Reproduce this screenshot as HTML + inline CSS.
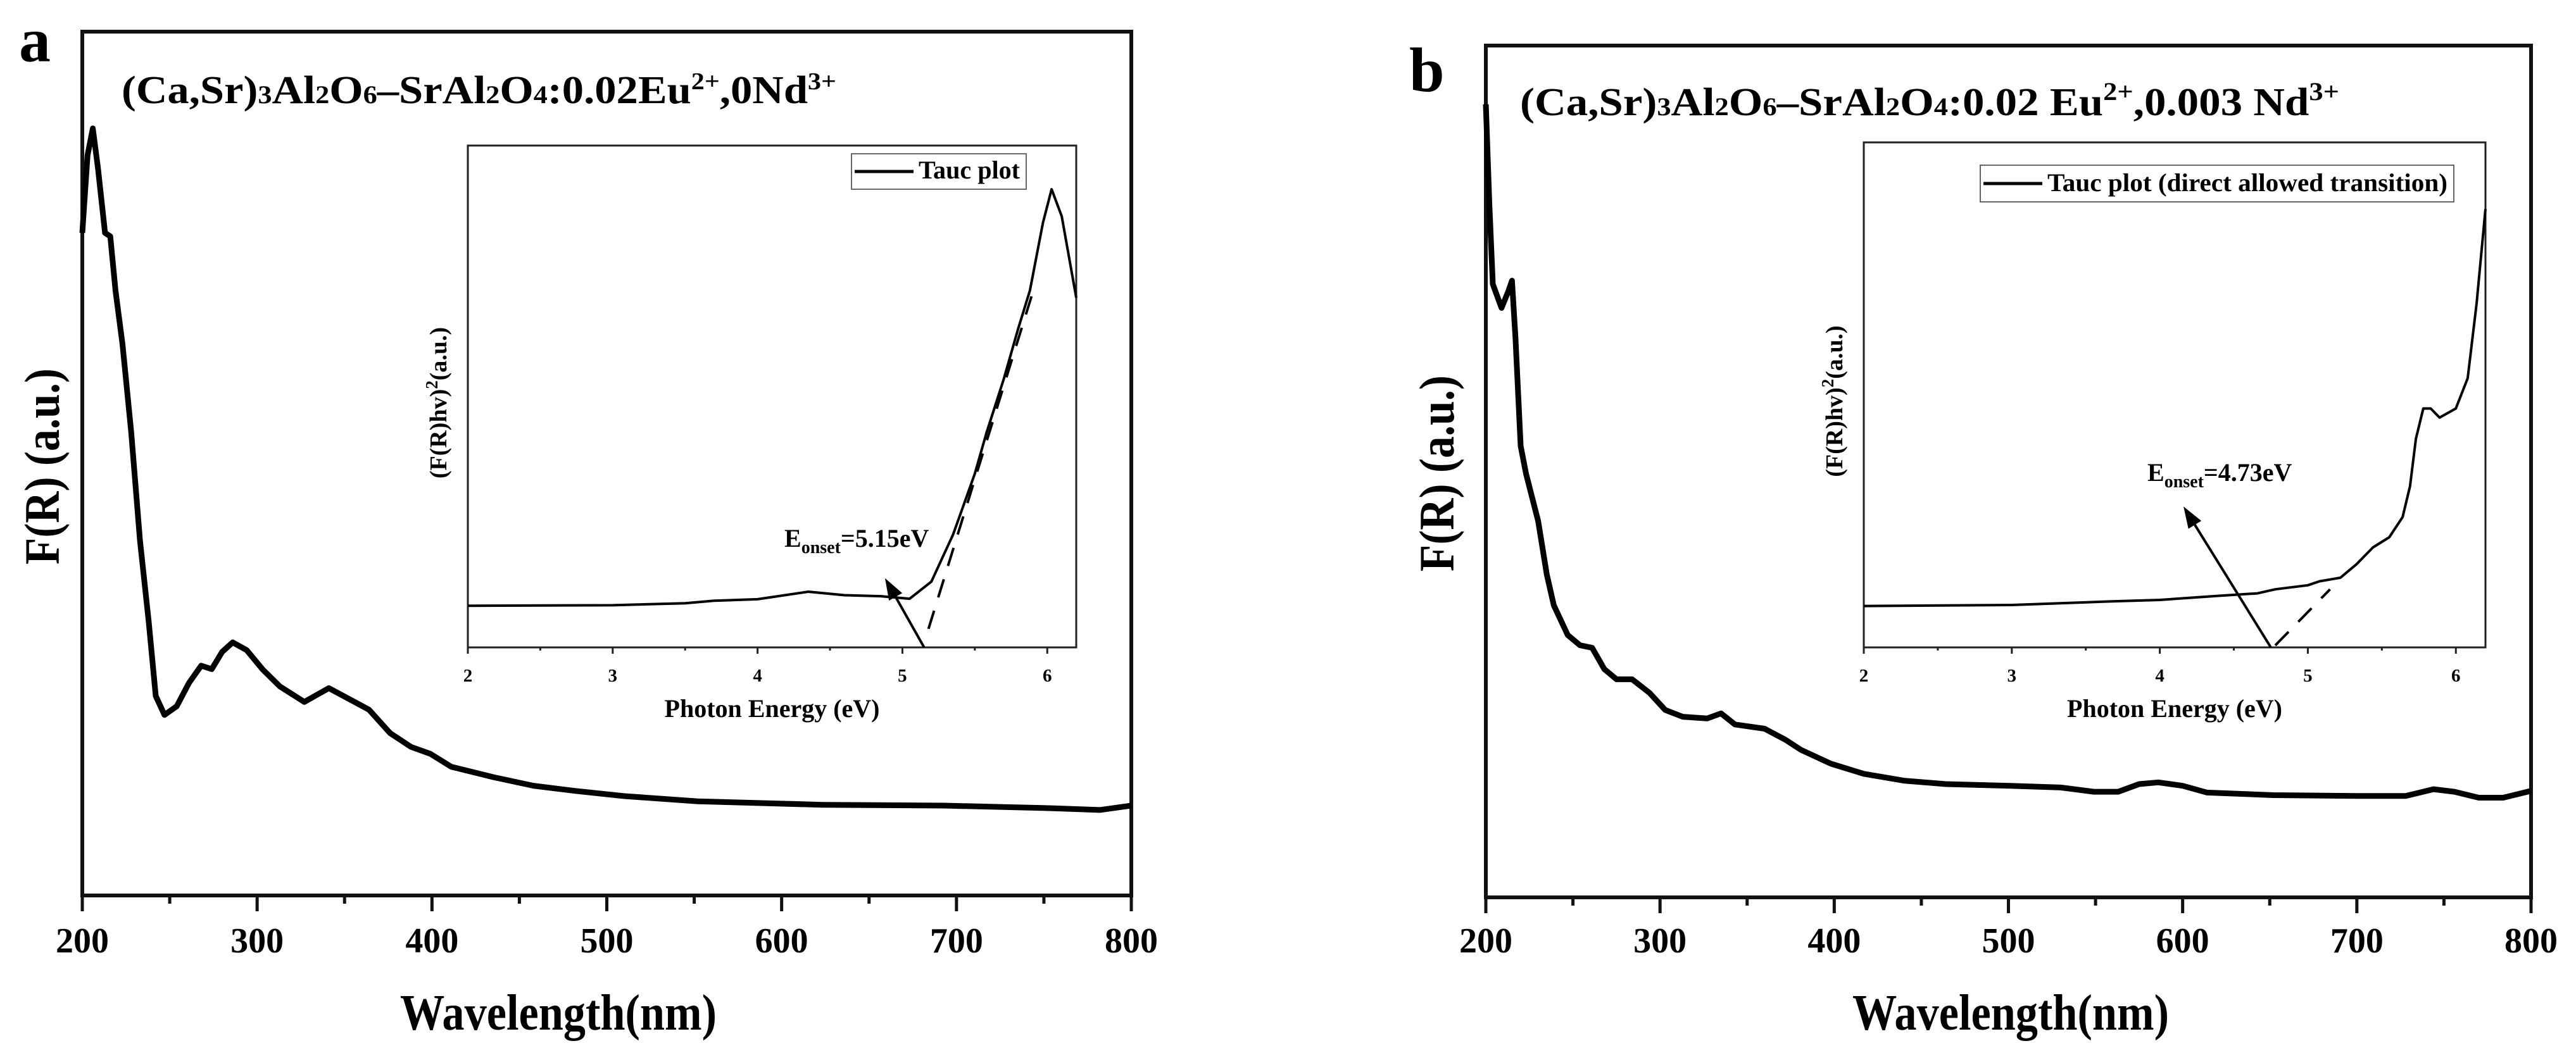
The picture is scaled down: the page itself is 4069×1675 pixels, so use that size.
<!DOCTYPE html>
<html><head><meta charset="utf-8"><style>
html,body{margin:0;padding:0;background:#fff}
svg{display:block;font-family:"Liberation Serif",serif;font-weight:bold}
</style></head><body>
<svg id="fig" width="4069" height="1675" viewBox="0 0 4069 1675" xmlns="http://www.w3.org/2000/svg"></svg>
<script>
// ---- Panel a main data (wavelength nm, F(R) relative %) ----
const aWl = [200,203,206,209,213,216,219,223,228,233,238,242,247,254,261,268,274,280,286,294,303,313,327,341,353,364,376,388,399,411,435,458,482,510,552,623,693,754,782,800];
const aFR = [76.7,85.7,88.8,84.1,76.7,76.3,70.0,63.8,53.6,41.1,31.7,23.1,20.9,21.9,24.6,26.6,26.2,28.2,29.3,28.4,26.2,24.2,22.4,24.0,22.7,21.5,18.8,17.2,16.4,14.9,13.7,12.7,12.1,11.5,10.9,10.5,10.4,10.1,9.9,10.4];
// ---- Panel a inset (eV, (F(R)hv)^2 %) ----
const aE = [2.0,3.0,3.5,3.7,4.0,4.35,4.6,4.85,5.05,5.2,5.35,5.5,5.58,5.7,5.8,5.88,5.97,6.03,6.1,6.2];
const aT = [8.3,8.4,8.8,9.3,9.6,11.1,10.4,10.2,9.7,13.1,22.5,34.6,42.7,53.5,63.6,71.1,84.6,91.3,85.9,69.7];
const aFitE = [5.18,5.91];
const aFitT = [3.7,71.7];
const aArrowE = [5.15,4.88];
const aArrowT = [0,13.8];
// ---- Panel b main ----
const bWl = [200,202,204,209,213,215,217,220,223,227,230,235,239,247,254,261,268,275,284,294,303,313,327,335,343,360,372,381,398,417,440,464,501,530,549,563,575,586,600,614,652,700,728,744,756,770,784,800];
const bFR = [93.1,81.5,72.0,69.2,71.2,72.4,65.7,53.0,49.8,46.6,44.2,37.9,34.3,30.8,29.6,29.3,26.8,25.6,25.6,24.0,22.0,21.2,21.0,21.6,20.3,19.8,18.5,17.3,15.7,14.5,13.7,13.3,13.1,12.9,12.4,12.4,13.3,13.5,13.1,12.3,12.0,11.9,11.9,12.7,12.4,11.7,11.7,12.5];
// ---- Panel b inset ----
const bE = [2.0,3.0,3.66,4.0,4.39,4.66,4.78,5.0,5.08,5.22,5.33,5.44,5.55,5.64,5.69,5.73,5.78,5.83,5.89,6.0,6.08,6.14,6.2];
const bT = [8.2,8.4,9.1,9.4,10.2,10.7,11.5,12.3,13.1,13.8,16.5,19.8,21.8,25.8,31.9,41.3,47.3,47.3,45.5,47.3,53.3,68.1,86.8];
const bFitE = [4.78,5.15];
const bFitT = [0.4,11.5];
const bArrowE = [4.75,4.16];
const bArrowT = [0,27.9];
const mainTicks = [200,300,400,500,600,700,800];
const insetTicks = [2,3,4,5,6];

const NS="http://www.w3.org/2000/svg";
const svg=document.getElementById('fig');
function mk(tag,attrs,parent){const e=document.createElementNS(NS,tag);for(const k in attrs)e.setAttribute(k,attrs[k]);(parent||svg).appendChild(e);return e;}
function txt(s,attrs,parent){const e=mk('text',attrs,parent);e.textContent=s;return e;}

function panel(cfg){
  const g=mk('g',{});
  
  
  const L=cfg.L,R=cfg.R,T=cfg.T,B=cfg.B;
  const sx=v=>L+(v-200)/600*(R-L);
  const sy=v=>B-v/100*(B-T);
  const frame=mk('rect',{x:L,y:T,width:R-L,height:B-T,fill:'none',stroke:'#111','stroke-width':6},g);
  
  for(let v=200;v<=800;v+=50){
    const major=v%100===0;
    const t=mk('line',{x1:sx(v),x2:sx(v),y1:B,y2:B+(major?25:13),stroke:'#111','stroke-width':5},g);
    
  }
  mainTicks.forEach(v=>{
    const t=txt(String(v),{x:sx(v),y:1505,'font-size':56,'text-anchor':'middle'},g);
    
  });
  let d='';cfg.wl.forEach((w,i)=>{d+=(i?'L':'M')+sx(w).toFixed(1)+','+sy(cfg.fr[i]).toFixed(1);});
  const p=mk('path',{d:d,fill:'none',stroke:'#000','stroke-width':9,'stroke-linejoin':'round'},g);
  
  const xl=txt('Wavelength(nm)',{x:cfg.xlx,y:1627,'font-size':80,'text-anchor':'middle',textLength:500,lengthAdjust:'spacingAndGlyphs'},g);
  
  const yl=txt('F(R) (a.u.)',{x:0,y:0,'font-size':78,'text-anchor':'middle',textLength:310,lengthAdjust:'spacingAndGlyphs',transform:`translate(${cfg.ylx},${cfg.yly}) rotate(-90)`},g);
  
  const lt=txt(cfg.letter,{x:cfg.letX,y:cfg.letY,'font-size':100},g);
  
  // inset
  const I=cfg.inset;
  const ix=v=>I.L+(v-2)/4.2*(I.R-I.L);
  const iy=v=>I.B-v/100*(I.B-I.T);
  const ig=mk('g',{},g);
  
  const ifr=mk('rect',{x:I.L,y:I.T,width:I.R-I.L,height:I.B-I.T,fill:'#fff',stroke:'#222','stroke-width':3},ig);
  
  for(let v=2;v<=6.01;v+=0.5){
    const major=Math.abs(v-Math.round(v))<0.01;
    const t=mk('line',{x1:ix(v),x2:ix(v),y1:I.B,y2:I.B+(major?10:5),stroke:'#222','stroke-width':3},ig);
    
  }
  insetTicks.forEach(v=>{
    const t=txt(String(v),{x:ix(v),y:I.B+54,'font-size':29,'text-anchor':'middle'},ig);
    
  });
  const ixl=txt('Photon Energy (eV)',{x:(I.L+I.R)/2,y:I.B+110,'font-size':40,'text-anchor':'middle'},ig);
  
  const iyl=mk('text',{x:0,y:0,'font-size':38,'text-anchor':'middle',transform:`translate(${I.L-34},${(I.T+I.B)/2+10}) rotate(-90)`},ig);
  iyl.innerHTML='(F(R)hv)<tspan dy="-14" font-size="27">2</tspan><tspan dy="14">(a.u.)</tspan>';
  
  let d2='';cfg.e.forEach((e,i)=>{d2+=(i?'L':'M')+ix(e).toFixed(1)+','+iy(cfg.t[i]).toFixed(1);});
  const ip=mk('path',{d:d2,fill:'none',stroke:'#000','stroke-width':4,'stroke-linejoin':'round'},ig);
  
  const fit=mk('line',{x1:ix(cfg.fitE[0]),y1:iy(cfg.fitT[0]),x2:ix(cfg.fitE[1]),y2:iy(cfg.fitT[1]),stroke:'#000','stroke-width':4,'stroke-dasharray':'30,22'},ig);
  
  const x1=ix(cfg.arE[0]),y1=iy(cfg.arT[0]),x2=ix(cfg.arE[1]),y2=iy(cfg.arT[1]);
  const ang=Math.atan2(y2-y1,x2-x1),hl=34,hw=12;
  const bx=x2-hl*Math.cos(ang),by=y2-hl*Math.sin(ang);
  const ar=mk('line',{x1:x1,y1:y1,x2:bx,y2:by,stroke:'#000','stroke-width':4},ig);
  
  const ah=mk('polygon',{points:`${x2},${y2} ${bx+hw*Math.sin(ang)},${by-hw*Math.cos(ang)} ${bx-hw*Math.sin(ang)},${by+hw*Math.cos(ang)}`,fill:'#000'},ig);
  
  const on=mk('text',{x:cfg.onX,y:cfg.onY,'font-size':40},ig);
  on.innerHTML='E<tspan dy="10" font-size="28">onset</tspan><tspan dy="-10">'+cfg.onText+'</tspan>';
  
  const lg=mk('g',{},ig);
  
  const lb=mk('rect',{x:cfg.lg[0],y:cfg.lg[1],width:cfg.lg[2]-cfg.lg[0],height:cfg.lg[3]-cfg.lg[1],fill:'#fff',stroke:'#666','stroke-width':2},lg);
  
  const ll=mk('line',{x1:cfg.lg[0]+5,x2:cfg.lg[0]+98,y1:(cfg.lg[1]+cfg.lg[3])/2,y2:(cfg.lg[1]+cfg.lg[3])/2,stroke:'#000','stroke-width':5},lg);
  
  const lt2=txt(cfg.lgText,{x:cfg.lg[0]+106,y:cfg.lg[3]-17,'font-size':40,textLength:cfg.lg[2]-cfg.lg[0]-116,lengthAdjust:'spacingAndGlyphs'},lg);
  
  // title
  const ti=mk('text',{x:cfg.tiX,y:cfg.tiY,'font-size':62,textLength:cfg.tiW,lengthAdjust:'spacingAndGlyphs'},g);
  ti.innerHTML=cfg.title;
  
}

panel({name:'panel-a',L:130,R:1787,T:50,B:1415,wl:aWl,fr:aFR,xlx:882,ylx:93,yly:737,letter:'a',letX:30,letY:97,
  inset:{L:739,R:1700,T:230,B:1023},e:aE,t:aT,fitE:aFitE,fitT:aFitT,arE:aArrowE,arT:aArrowT,
  onX:1239,onY:864,onText:'=5.15eV',lg:[1345,243,1621,299],lgText:'Tauc plot',
  tiX:192,tiY:163,tiW:1129,
  title:'(Ca,Sr)<tspan font-size="40">3</tspan>Al<tspan font-size="40">2</tspan>O<tspan font-size="40">6</tspan>–SrAl<tspan font-size="40">2</tspan>O<tspan font-size="40">4</tspan>:0.02Eu<tspan font-size="38" dy="-22">2+</tspan><tspan dy="22">,0Nd</tspan><tspan font-size="38" dy="-22">3+</tspan>'});
panel({name:'panel-b',L:2347,R:3998,T:72,B:1418,wl:bWl,fr:bFR,xlx:3176,ylx:2296,yly:748,letter:'b',letX:2226,letY:144,
  inset:{L:2944,R:3926,T:225,B:1023},e:bE,t:bT,fitE:bFitE,fitT:bFitT,arE:bArrowE,arT:bArrowT,
  onX:3392,onY:760,onText:'=4.73eV',lg:[3128,261,3876,319],lgText:'Tauc plot (direct allowed transition)',
  tiX:2401,tiY:182,tiW:1294,
  title:'(Ca,Sr)<tspan font-size="40">3</tspan>Al<tspan font-size="40">2</tspan>O<tspan font-size="40">6</tspan>–SrAl<tspan font-size="40">2</tspan>O<tspan font-size="40">4</tspan>:0.02 Eu<tspan font-size="40" dy="-24">2+</tspan><tspan dy="24">,0.003 Nd</tspan><tspan font-size="40" dy="-24">3+</tspan>'});
</script>
</body></html>
